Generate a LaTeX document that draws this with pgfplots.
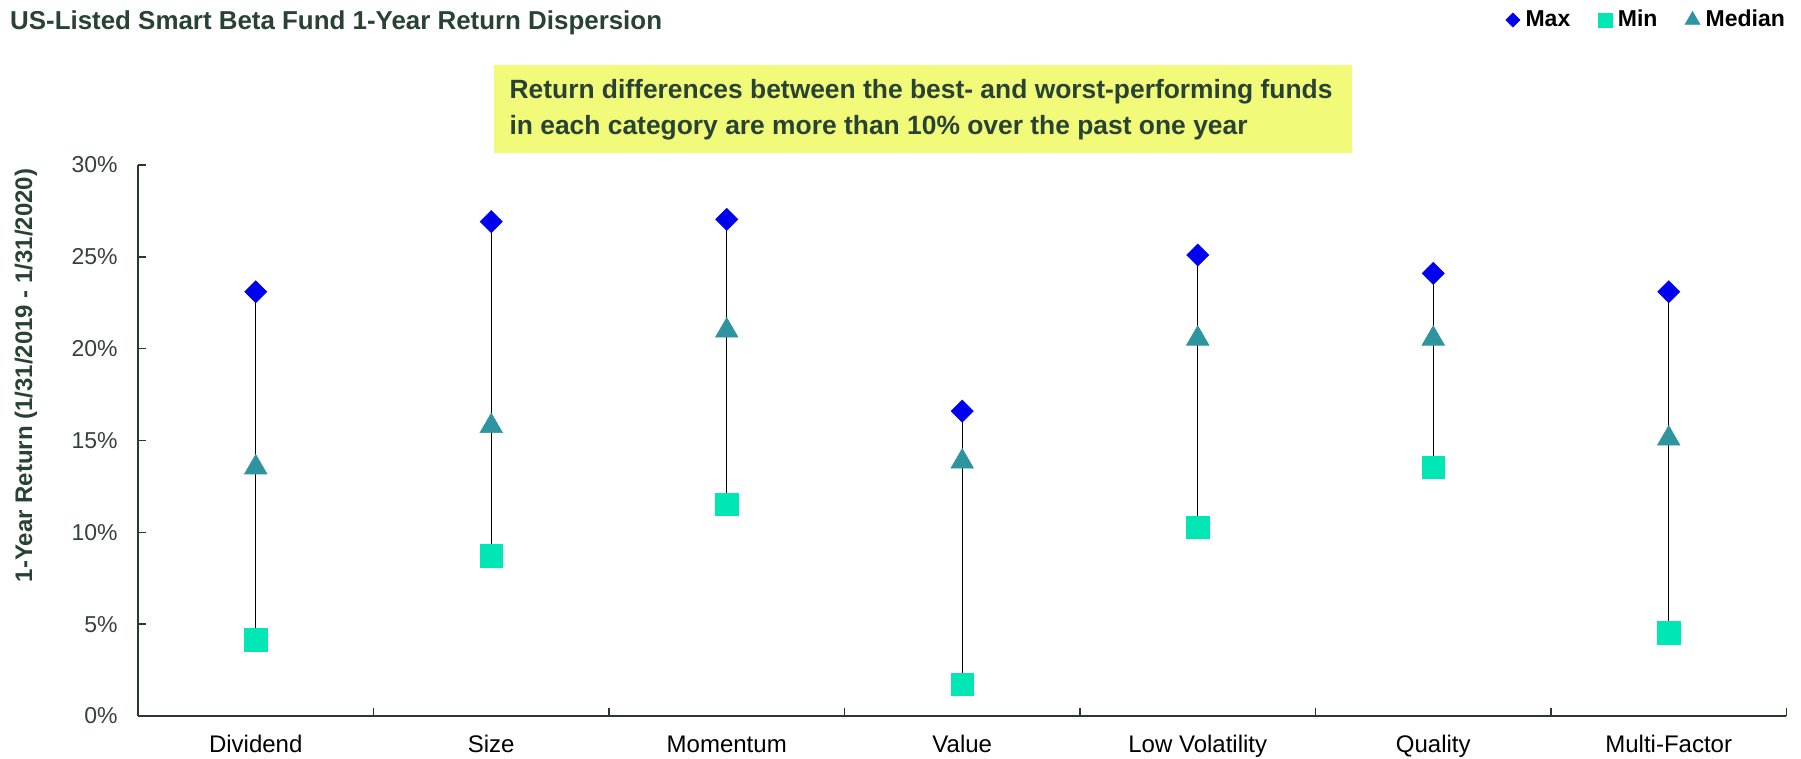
\documentclass[border=0pt]{standalone}
\usepackage{pgfplots}
\pgfplotsset{compat=1.18}
\usepackage{fontspec}
\setmainfont{Liberation Sans}
\definecolor{dkgreen}{RGB}{40,66,52}
\definecolor{axisgreen}{RGB}{38,58,46}
\definecolor{maxblue}{RGB}{0,0,240}
\definecolor{minaqua}{RGB}{0,230,180}
\definecolor{medteal}{RGB}{46,148,160}
\definecolor{boxyellow}{RGB}{242,250,122}
\definecolor{ticklab}{RGB}{55,65,60}

\pgfplotstableread{
x max min med
0 23.10 4.15 13.53
1 26.92 8.72 15.78
2 27.04 11.53 20.98
3 16.60 1.71 13.85
4 25.10 10.28 20.54
5 24.10 13.53 20.54
6 23.10 4.53 15.10
}\datatable

\begin{document}
\begin{tikzpicture}
\useasboundingbox (0,0) rectangle (900.5pt,379.5pt);
\node[anchor=base west, inner sep=0pt, text=dkgreen, font=\fontsize{12.95}{15}\selectfont\bfseries] at (4.9pt,364.6pt) {US-Listed Smart Beta Fund 1-Year Return Dispersion};
\fill[boxyellow] (247pt,303pt) rectangle (676pt,347pt);
\node[anchor=base west, inner sep=0pt, text=dkgreen, font=\fontsize{13.2}{15}\selectfont\bfseries] at (254.6pt,330.1pt) {Return differences between the best- and worst-performing funds};
\node[anchor=base west, inner sep=0pt, text=dkgreen, font=\fontsize{13.2}{15}\selectfont\bfseries] at (254.6pt,312.3pt) {in each category are more than 10\% over the past one year};
\begin{axis}[
  at={(69pt,21.5pt)}, anchor=south west,
  scale only axis, width=824.25pt, height=275.5pt,
  xmin=-0.5, xmax=6.5, ymin=0, ymax=30,
  axis lines=left,
  axis line style={-, draw=axisgreen, line width=1pt},
  clip=false,
  tick align=inside,
  xtick={0,...,6},
  xticklabels={Dividend,Size,Momentum,Value,Low Volatility,Quality,Multi-Factor},
  major x tick style={draw=none},
  minor xtick={0.5,1.5,2.5,3.5,4.5,5.5,6.5},
  minor tick length=4pt,
  major tick length=4pt,
  tick style={draw=axisgreen, line width=0.8pt},
  xticklabel style={anchor=base, inner sep=0pt, yshift=-18.5pt, font=\fontsize{12}{14}\selectfont, text=black},
  ytick={0,5,...,30},
  yticklabel={\pgfmathprintnumber{\tick}\%},
  yticklabel style={anchor=east, inner sep=0pt, xshift=-10pt, font=\fontsize{11.5}{13}\selectfont, text=ticklab},
  /pgf/number format/assume math mode=true,
  ylabel={1-Year Return (1/31/2019 - 1/31/2020)},
  every axis y label/.style={at={([xshift=-56pt]rel axis cs:0,0.618)}, rotate=90, anchor=center, font=\fontsize{12}{14}\selectfont\bfseries, text=dkgreen},
  legend columns=3,
  legend style={at={(1.0024,1.263)}, anchor=east, draw=none, fill=none, inner sep=0pt, outer sep=0pt,
    font=\fontsize{11.5}{13}\selectfont\bfseries, text=black,
    nodes={inner sep=2.8pt},
    /tikz/every even column/.append style={column sep=11pt}},
  legend image code/.code={\draw[mark repeat=2,mark phase=2,#1] plot coordinates {(0cm,0cm) (0.13cm,0cm) (0.26cm,0cm)};},
]
\addplot[black, line width=0.7pt, forget plot] coordinates {(0,4.15) (0,23.10)};
\addplot[black, line width=0.7pt, forget plot] coordinates {(1,8.72) (1,26.92)};
\addplot[black, line width=0.7pt, forget plot] coordinates {(2,11.53) (2,27.04)};
\addplot[black, line width=0.7pt, forget plot] coordinates {(3,1.71) (3,16.60)};
\addplot[black, line width=0.7pt, forget plot] coordinates {(4,10.28) (4,25.10)};
\addplot[black, line width=0.7pt, forget plot] coordinates {(5,13.53) (5,24.10)};
\addplot[black, line width=0.7pt, forget plot] coordinates {(6,4.53) (6,23.10)};
\addplot[only marks, mark=square*, mark size=3.9pt, mark options={rotate=45, draw=maxblue, fill=maxblue, line width=0.3pt}, legend image post style={mark size=2.5pt}] table[x=x, y=max] {\datatable};
\addlegendentry{Max}
\addplot[only marks, mark=square*, mark size=5.6pt, mark options={draw=minaqua, fill=minaqua, line width=0.3pt}, legend image post style={mark size=3.6pt}] table[x=x, y=min] {\datatable};
\addlegendentry{Min}
\addplot[only marks, mark=triangle*, mark size=6.5pt, mark options={draw=medteal, fill=medteal, line width=0.3pt}, legend image post style={mark size=4.3pt}] table[x=x, y=med] {\datatable};
\addlegendentry{Median}
\end{axis}
\end{tikzpicture}
\end{document}
